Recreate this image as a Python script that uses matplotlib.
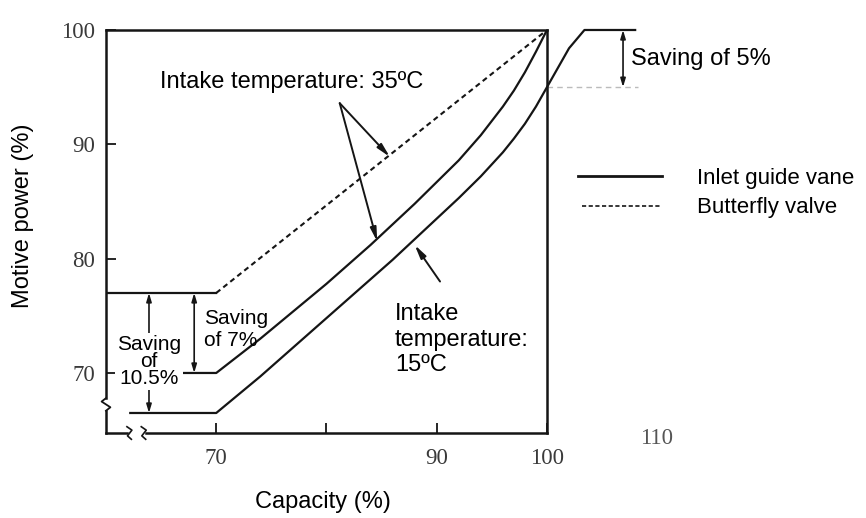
import numpy as np
import matplotlib.pyplot as plt

plt.rcParams['font.family'] = ['Liberation Sans', 'DejaVu Sans']

# motive power (%) against capacity (%)
butterfly_x = [60, 70, 100]
butterfly_y = [77, 77, 100]

igv35_x = [67, 70, 72, 74, 76, 78, 80, 82, 84, 86, 88, 90, 92, 94, 96, 97, 98, 99, 100]
igv35_y = [70, 70, 71.5, 73.0, 74.6, 76.2, 77.8, 79.5, 81.2, 83.0, 84.8, 86.7, 88.6,
           90.8, 93.3, 94.7, 96.3, 98.1, 100]

igv15_x = [62.2, 70, 72, 74, 76, 78, 80, 82, 84, 86, 88, 90, 92, 94, 96, 97, 98, 99, 100,
           101, 102, 103.4, 108]
igv15_y = [66.5, 66.5, 68.1, 69.7, 71.4, 73.1, 74.8, 76.5, 78.2, 79.9, 81.7, 83.5, 85.3,
           87.2, 89.3, 90.5, 91.8, 93.3, 95.0, 96.7, 98.4, 100, 100]

x_ticks = [70, 80, 90, 100]
x_labels = ['70', '', '90', '100']
y_ticks = [70, 80, 90, 100]
y_labels = ['70', '80', '90', '100']

ink = '#151515'
fs = 17

fig = plt.figure(figsize=(8.66, 5.18), dpi=100)
ax = fig.add_axes([0.1224, 0.1641, 0.5092, 0.778])
ax.set_xlim(60, 100)
ax.set_ylim(64.75, 100)

for s in ['left', 'bottom']:
    ax.spines[s].set_visible(False)
for s in ['top', 'right']:
    ax.spines[s].set_linewidth(1.8)
    ax.spines[s].set_color(ink)

# left / bottom axis lines with break marks
ax.plot([60, 60], [100, 67.8], color=ink, lw=1.8, clip_on=False)
ax.plot([60, 59.6, 60.4, 60], [67.8, 67.5, 67.0, 66.7], color=ink, lw=1.3, clip_on=False)
ax.plot([60, 60], [66.7, 64.75], color=ink, lw=1.8, clip_on=False)
ax.plot([60, 61.9], [64.75, 64.75], color=ink, lw=1.8, clip_on=False)
for bx in [62.1, 63.4]:
    ax.plot([bx - 0.2, bx + 0.25, bx - 0.15, bx + 0.2], [65.3, 65.0, 64.5, 64.2],
            color=ink, lw=1.2, clip_on=False)
ax.plot([63.6, 100], [64.75, 64.75], color=ink, lw=1.8, clip_on=False)

ax.set_xticks(x_ticks)
ax.set_xticklabels(x_labels)
ax.set_yticks(y_ticks)
ax.set_yticklabels(y_labels)
ax.tick_params(direction='in', length=7, width=1.3, color=ink, labelsize=16.5,
               labelcolor='#3a3a3a')
ax.tick_params(axis='x', pad=11)
ax.tick_params(axis='y', pad=8)
for lab in ax.get_xticklabels() + ax.get_yticklabels():
    lab.set_family('Liberation Serif')
ax.text(109.9, 64.3, '110', ha='center', va='center', fontsize=16.5, color='#555555',
        family='Liberation Serif', clip_on=False)

# curves: butterfly valve is solid on its flat part, dashed on the rise
ax.plot(butterfly_x[:2], butterfly_y[:2], color=ink, lw=1.6)
ax.plot(butterfly_x[1:], butterfly_y[1:], color=ink, lw=1.5, ls=(0, (2.5, 1.8)))
ax.plot(igv35_x, igv35_y, color=ink, lw=1.6)
ax.plot(igv15_x, igv15_y, color=ink, lw=1.6, clip_on=False)

# saving of 5 %
ax.plot([100, 108.3], [95, 95], color='#bbbbbb', lw=1.0, ls=(0, (4, 3)), clip_on=False)
ax.annotate('', xy=(106.9, 100), xytext=(106.9, 95),
            arrowprops=dict(arrowstyle='<|-|>,head_length=0.5,head_width=0.15',
                            lw=1.2, color=ink, shrinkA=0, shrinkB=0), annotation_clip=False)
ax.text(107.6, 97.5, 'Saving of 5%', fontsize=fs, ha='left', va='center', clip_on=False)

# savings at low capacity
ax.annotate('', xy=(63.9, 77), xytext=(63.9, 66.5),
            arrowprops=dict(arrowstyle='<|-|>,head_length=0.5,head_width=0.15',
                            lw=1.2, color=ink, shrinkA=0, shrinkB=0))
ax.text(63.9, 71.0, 'Saving\nof\n10.5%', fontsize=15, ha='center', va='center',
        linespacing=0.88, bbox=dict(fc='white', ec='none', pad=1))
ax.annotate('', xy=(68.0, 77), xytext=(68.0, 70),
            arrowprops=dict(arrowstyle='<|-|>,head_length=0.5,head_width=0.15',
                            lw=1.2, color=ink, shrinkA=0, shrinkB=0))
ax.text(68.9, 73.8, 'Saving\nof 7%', fontsize=15, ha='left', va='center')

# intake temperature labels
ax.text(76.8, 95.45, 'Intake temperature: 35ºC', fontsize=fs, ha='center', va='center')
for tip in [(85.75, 88.9), (84.6, 81.5)]:
    ax.annotate('', xy=tip, xytext=(81.2, 93.6),
                arrowprops=dict(arrowstyle='-|>,head_length=0.8,head_width=0.18',
                                lw=1.4, color=ink, shrinkA=0, shrinkB=0))
ax.annotate('', xy=(88.0, 81.2), xytext=(90.3, 78.0),
            arrowprops=dict(arrowstyle='-|>,head_length=0.8,head_width=0.18',
                            lw=1.4, color=ink, shrinkA=0, shrinkB=0))
ax.text(86.2, 72.9, 'Intake\ntemperature:\n15ºC', fontsize=fs, ha='left', va='center',
        linespacing=1.2)

# key
ax.plot([102.8, 110.4], [87.2, 87.2], color=ink, lw=2.0, clip_on=False)
ax.plot([103.2, 110.4], [84.6, 84.6], color=ink, lw=1.2, ls=(0, (2.5, 1.5)), clip_on=False)
ax.text(113.6, 87.0, 'Inlet guide vane', fontsize=16, ha='left', va='center', clip_on=False)
ax.text(113.6, 84.5, 'Butterfly valve', fontsize=16, ha='left', va='center', clip_on=False)

fig.text(0.026, 0.583, 'Motive power (%)', fontsize=fs, rotation=90, ha='center', va='center')
fig.text(0.373, 0.03, 'Capacity (%)', fontsize=fs, ha='center', va='center')

fig.savefig('out.png', dpi=100)
